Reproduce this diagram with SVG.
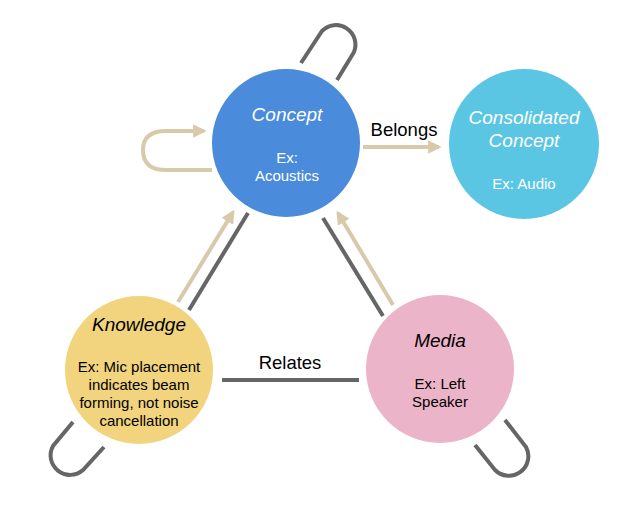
<svg xmlns="http://www.w3.org/2000/svg" width="628" height="526" viewBox="0 0 628 526">
<style>
.t{font-family:"Liberation Sans",Arial,sans-serif;text-anchor:middle}
.title{font-size:19px;font-style:italic}
.sub{font-size:15px}
.lbl{font-size:18.5px;fill:#000}
.tan{fill:none;stroke:#d9c9ab;stroke-width:4}
.gry{fill:none;stroke:#666;stroke-width:4}
</style>
<defs>
<marker id="ah" viewBox="0 0 10 10" refX="8" refY="5" markerWidth="3.4" markerHeight="3.4" orient="auto" markerUnits="strokeWidth">
<path d="M0,0 L10,5 L0,10 z" fill="#d9c9ab"/>
</marker>
</defs>
<rect width="628" height="526" fill="#fff"/>
<g id="connectors">
<path class="tan" d="M212,170 L166,170 Q143,170 143,150 Q143,131 166,131 L204,131" marker-end="url(#ah)"/>
<path class="gry" d="M301,63 L322,31 A19.5,19.5 0 0 1 354,52 L337,80"/>
<path class="tan" d="M363,147 L439,147" marker-end="url(#ah)"/>
<path class="tan" d="M178,302 L233,212" marker-end="url(#ah)"/>
<path class="gry" d="M189,310 L248,213"/>
<path class="gry" d="M323,218 L383,316"/>
<path class="tan" d="M393,305 L338,213" marker-end="url(#ah)"/>
<path class="gry" d="M222,380 L359,380"/>
<path class="gry" d="M73,422 L53,446 A19.5,19.5 0 0 0 83,470 L104,447"/>
<path class="gry" d="M505,420 L526,447 A19.5,19.5 0 0 1 495,470 L475,445"/>
<text class="t lbl" x="404" y="136">Belongs</text>
<text class="t lbl" x="290" y="369">Relates</text>
</g>
<g id="concept">
<circle cx="286" cy="143" r="74" fill="#4a8bdb"/>
<text class="t title" x="287" y="121" fill="#fff">Concept</text>
<text class="t sub" x="287" y="163" fill="#fff">Ex:</text>
<text class="t sub" x="287" y="181" fill="#fff">Acoustics</text>
</g>
<g id="consolidated">
<circle cx="524" cy="144" r="75" fill="#5bc6e3"/>
<text class="t title" x="524" y="124" fill="#fff">Consolidated</text>
<text class="t title" x="524" y="147" fill="#fff">Concept</text>
<text class="t sub" x="524" y="189" fill="#fff">Ex: Audio</text>
</g>
<g id="knowledge">
<circle cx="139" cy="370" r="74" fill="#f1d47d"/>
<text class="t title" x="139" y="331" fill="#000">Knowledge</text>
<text class="t sub" x="139" y="372" fill="#000">Ex: Mic placement</text>
<text class="t sub" x="139" y="390" fill="#000">indicates beam</text>
<text class="t sub" x="139" y="408" fill="#000">forming, not noise</text>
<text class="t sub" x="139" y="426" fill="#000">cancellation</text>
</g>
<g id="media">
<circle cx="440" cy="369" r="74" fill="#ecb4c8"/>
<text class="t title" x="440" y="347" fill="#000">Media</text>
<text class="t sub" x="440" y="389" fill="#000">Ex: Left</text>
<text class="t sub" x="440" y="407" fill="#000">Speaker</text>
</g>
</svg>
